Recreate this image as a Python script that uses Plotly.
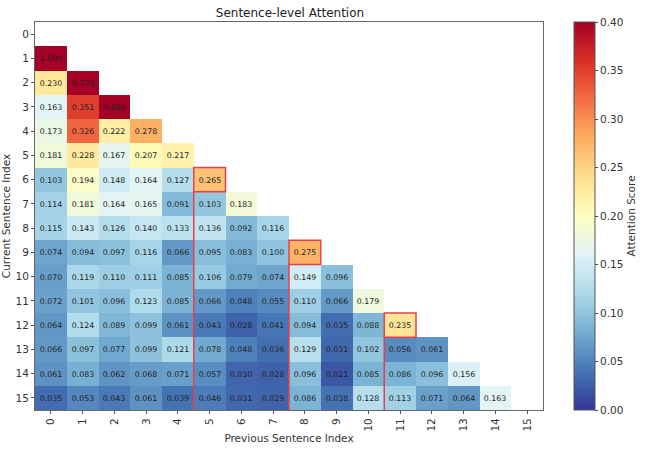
import plotly.graph_objects as go

n = 16
indices = list(range(n))
tick_labels = [str(i) for i in indices]

row_values = [
    [],
    [1.000],
    [0.230, 0.770],
    [0.163, 0.351, 0.486],
    [0.173, 0.326, 0.222, 0.278],
    [0.181, 0.228, 0.167, 0.207, 0.217],
    [0.103, 0.194, 0.148, 0.164, 0.127, 0.265],
    [0.114, 0.181, 0.164, 0.165, 0.091, 0.103, 0.183],
    [0.115, 0.143, 0.126, 0.140, 0.133, 0.136, 0.092, 0.116],
    [0.074, 0.094, 0.097, 0.116, 0.066, 0.095, 0.083, 0.100, 0.275],
    [0.070, 0.119, 0.110, 0.111, 0.085, 0.106, 0.079, 0.074, 0.149, 0.096],
    [0.072, 0.101, 0.096, 0.123, 0.085, 0.066, 0.048, 0.055, 0.110, 0.066, 0.179],
    [0.064, 0.124, 0.089, 0.099, 0.061, 0.043, 0.028, 0.041, 0.094, 0.035, 0.088, 0.235],
    [0.066, 0.097, 0.077, 0.099, 0.121, 0.078, 0.048, 0.036, 0.129, 0.031, 0.102, 0.056, 0.061],
    [0.061, 0.083, 0.062, 0.068, 0.071, 0.057, 0.030, 0.028, 0.096, 0.021, 0.085, 0.086, 0.096, 0.156],
    [0.035, 0.053, 0.043, 0.061, 0.039, 0.046, 0.031, 0.029, 0.086, 0.038, 0.128, 0.113, 0.071, 0.064, 0.163],
]

# highlighted (row, column) cells
highlight_rows = [6, 9, 12]
highlight_cols = [5, 8, 11]

cbar_ticks = [0, 0.05, 0.1, 0.15, 0.2, 0.25, 0.3, 0.35, 0.4]
cbar_labels = ["0.00", "0.05", "0.10", "0.15", "0.20", "0.25", "0.30", "0.35", "0.40"]

z = [r + [None] * (n - len(r)) for r in row_values]

font_family = "DejaVu Sans"

fig = go.Figure(
    go.Heatmap(
        z=z,
        x=indices,
        y=indices,
        colorscale="RdYlBu_r",
        zmin=0,
        zmax=0.4,
        texttemplate="%{z:.3f}",
        textfont=dict(size=7.8, color="#222", family=font_family),
        hoverongaps=False,
        xgap=0,
        ygap=0,
        colorbar=dict(
            x=1.061,
            xanchor="left",
            xpad=0,
            y=0.5,
            yanchor="middle",
            len=1.0,
            lenmode="fraction",
            ypad=0,
            thickness=21,
            outlinecolor="#555",
            outlinewidth=1,
            tickvals=cbar_ticks,
            ticktext=cbar_labels,
            ticks="outside",
            ticklen=3,
            tickfont=dict(size=10.5, family=font_family, color="#333"),
            title=dict(text="Attention Score", side="right",
                       font=dict(size=10.5, family=font_family, color="#333")),
        ),
    )
)

shapes = []
for r, c in zip(highlight_rows, highlight_cols):
    shapes.append(dict(type="rect", xref="x", yref="y",
                       x0=c - 0.5, x1=c + 0.5, y0=r - 0.5, y1=r + 0.5,
                       line=dict(color="#e8404a", width=1.5)))
    shapes.append(dict(type="line", xref="x", yref="y",
                       x0=c - 0.5, x1=c - 0.5, y0=r + 0.5, y1=n - 0.5,
                       line=dict(color="#e8404a", width=1.5)))

fig.update_layout(
    width=662,
    height=449,
    margin=dict(l=35, r=119, t=22, b=39, autoexpand=False),
    plot_bgcolor="white",
    paper_bgcolor="white",
    font=dict(family=font_family, color="#333"),
    title=dict(text="Sentence-level Attention", x=0.438, xanchor="center",
               y=0.972, yanchor="middle",
               font=dict(size=12, family=font_family, color="#222")),
    shapes=shapes,
    xaxis=dict(
        range=[-0.5, n - 0.5],
        tickvals=indices,
        ticktext=tick_labels,
        tickangle=-90,
        ticks="outside",
        ticklen=3,
        tickcolor="#555",
        tickfont=dict(size=10.5, family=font_family, color="#333"),
        showgrid=False,
        zeroline=False,
        showline=True,
        linecolor="#666",
        linewidth=1,
        mirror=True,
        automargin=False,
        title=dict(text="Previous Sentence Index", standoff=4,
                   font=dict(size=10.5, family=font_family, color="#333")),
    ),
    yaxis=dict(
        range=[n - 0.5, -0.5],
        tickvals=indices,
        ticktext=tick_labels,
        ticks="outside",
        ticklen=3,
        tickcolor="#555",
        tickfont=dict(size=10.5, family=font_family, color="#333"),
        showgrid=False,
        zeroline=False,
        showline=True,
        linecolor="#666",
        linewidth=1,
        mirror=True,
        automargin=False,
        title=dict(text="Current Sentence Index", standoff=3,
                   font=dict(size=10.5, family=font_family, color="#333")),
    ),
)

fig.write_html("out.html", config={"displayModeBar": False},
               post_script="document.body.style.margin='0';")
